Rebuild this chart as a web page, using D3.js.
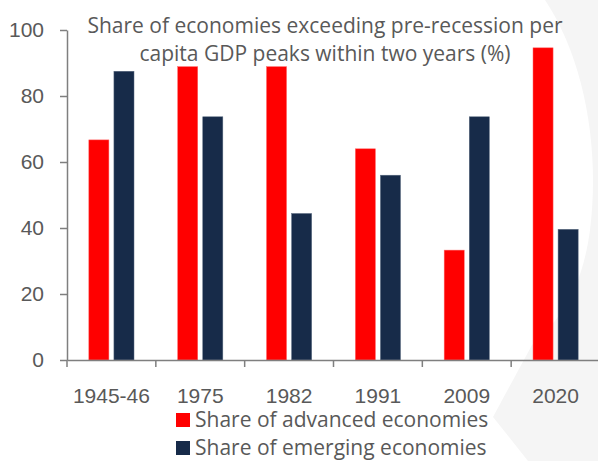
<!DOCTYPE html>
<html>
<head>
<meta charset="utf-8">
<script src="https://cdn.jsdelivr.net/npm/d3@7"></script>
<style>
  body { margin: 0; background: #fff; }
  svg { display: block; font-family: "Open Sans", Lato, sans-serif; }
</style>
</head>
<body>
<svg id="chart" width="598" height="461"></svg>
<script>
const categories = ["1945-46", "1975", "1982", "1991", "2009", "2020"];
const advanced = [66.7, 88.9, 88.9, 64, 33.3, 94.6];
const emerging = [87.5, 73.7, 44.4, 56, 73.7, 39.6];
const yTicks = [0, 20, 40, 60, 80, 100];
const seriesNames = ["Share of advanced economies", "Share of emerging economies"];

const colors = ["#ff0000", "#172b49"];
const textColor = "#595959";
const axisColor = "#7f7f7f";

const svg = d3.select("#chart");
const width = 598, height = 461;
const margin = { top: 30, right: -2, bottom: 101, left: 67 };

// faint background decoration on the right
svg.append("path")
  .attr("d", "M545,0 C585,60 600,150 590,230 C582,290 560,320 532,345 L493,417 L528,461 L598,461 L598,0 Z")
  .attr("fill", "#f5f5f5");

const data = categories.map((c, i) => ({ cat: c, values: [advanced[i], emerging[i]] }));

const x = d3.scaleBand()
  .domain(categories)
  .range([margin.left, width - margin.right]);

const x1 = d3.scaleBand()
  .domain([0, 1])
  .range([0, x.bandwidth()])
  .paddingInner(0.2)
  .paddingOuter(0.87);

const y = d3.scaleLinear()
  .domain([0, 100])
  .range([height - margin.bottom, margin.top]);

const groups = svg.selectAll("g.cat")
  .data(data)
  .enter().append("g")
  .attr("class", "cat")
  .attr("transform", d => `translate(${x(d.cat)},0)`);

groups.selectAll("rect")
  .data(d => d.values)
  .enter().append("rect")
  .attr("x", (d, i) => x1(i))
  .attr("y", d => y(d))
  .attr("width", x1.bandwidth())
  .attr("height", d => y(0) - y(d))
  .attr("fill", (d, i) => colors[i])
  .attr("stroke", (d, i) => i === 0 ? "#ff6b6b" : "#5a6a80")
  .attr("stroke-width", 0.5);

// y axis
const yAxis = svg.append("g")
  .attr("transform", `translate(${margin.left},0)`)
  .call(d3.axisLeft(y).tickValues(yTicks).tickSize(7).tickPadding(16).tickSizeOuter(0));

// x axis, ticks sit on the band edges
const xAxis = svg.append("g")
  .attr("transform", `translate(0,${y(0)})`)
  .call(d3.axisBottom(x).tickSize(0).tickPadding(28));

const edgeTicks = svg.append("g");
edgeTicks.selectAll("line")
  .data(d3.range(categories.length + 1))
  .enter().append("line")
  .attr("x1", i => margin.left + x.step() * i)
  .attr("x2", i => margin.left + x.step() * i)
  .attr("y1", y(0))
  .attr("y2", y(0) + 7)
  .attr("stroke", axisColor)
  .attr("stroke-width", 1.5);

[yAxis, xAxis].forEach(g => {
  g.selectAll(".domain").attr("stroke", axisColor).attr("stroke-width", 1.5);
  g.selectAll(".tick line").attr("stroke", axisColor).attr("stroke-width", 1.5);
  g.selectAll(".tick text")
    .attr("fill", textColor)
    .style("font-size", "21px");
});

// title
const title = svg.append("text")
  .attr("text-anchor", "middle")
  .attr("fill", textColor)
  .style("font-size", "21px");
title.append("tspan").attr("x", 325).attr("y", 33).text("Share of economies exceeding pre-recession per");
title.append("tspan").attr("x", 325).attr("y", 61).text("capita GDP peaks within two years (%)");

// legend
const legend = svg.selectAll("g.legend")
  .data(seriesNames)
  .enter().append("g")
  .attr("class", "legend")
  .attr("transform", (d, i) => `translate(176,${413 + i * 28})`);

legend.append("rect")
  .attr("width", 14)
  .attr("height", 14)
  .attr("fill", (d, i) => colors[i]);

legend.append("text")
  .attr("x", 19)
  .attr("y", 14)
  .attr("fill", textColor)
  .style("font-size", "21px")
  .text(d => d);
</script>
</body>
</html>
